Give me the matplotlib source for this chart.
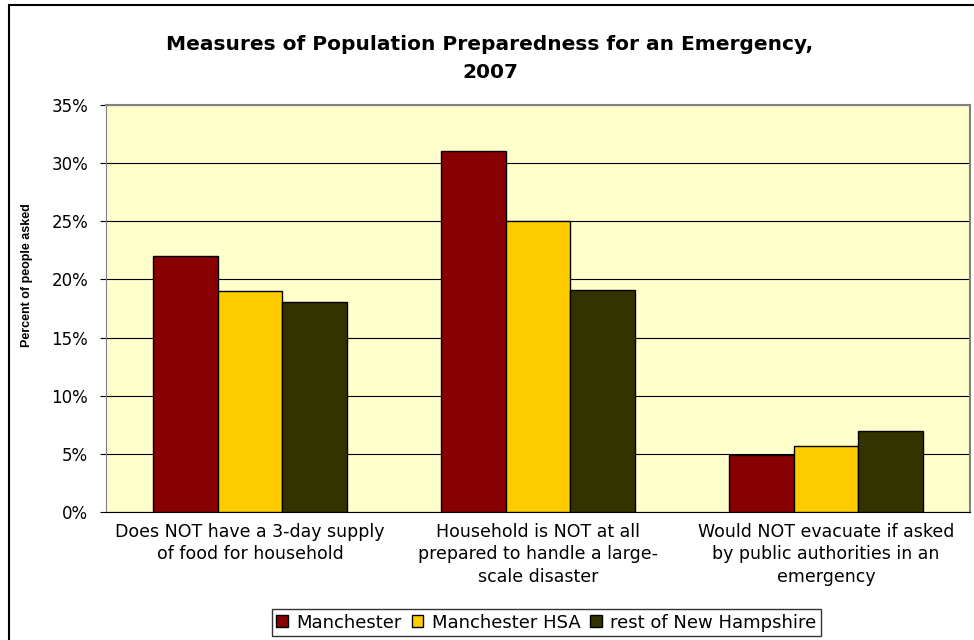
import matplotlib.pyplot as plt
import matplotlib.patches as patches
import numpy as np

plt.rcParams['font.family'] = ['DejaVu Sans']

categories = ['Does NOT have a 3-day supply\nof food for household',
              'Household is NOT at all\nprepared to handle a large-\nscale disaster',
              'Would NOT evacuate if asked\nby public authorities in an\nemergency']
series_names = ['Manchester', 'Manchester HSA', 'rest of New Hampshire']
manchester = [22.0, 31.0, 4.9]
manchester_hsa = [19.0, 25.0, 5.7]
rest_nh = [18.1, 19.1, 7.0]
colors = ['#880000', '#FFCC00', '#333300']

fig = plt.figure(figsize=(9.74, 6.40), dpi=100)
ax = fig.add_axes([0.1088, 0.2, 0.887, 0.636])
ax.set_facecolor('#FFFFCC')

x = np.arange(len(categories))
width = 0.224
for i, (vals, name, c) in enumerate(zip([manchester, manchester_hsa, rest_nh], series_names, colors)):
    ax.bar(x + (i - 1) * width, vals, width, color=c, edgecolor='black', linewidth=1, label=name, zorder=3)

ax.set_xlim(-0.5, 2.5)
ax.set_ylim(0, 35)
ax.set_yticks(range(0, 36, 5))
ax.set_yticklabels([f'{v}%' for v in range(0, 36, 5)], fontsize=12)
ax.yaxis.grid(True, color='black', linewidth=0.8, zorder=0)
ax.set_xticks(x)
ax.set_xticklabels(categories, fontsize=12.5, linespacing=1.3)
ax.tick_params(axis='x', length=0, pad=8)
ax.tick_params(axis='y', length=4.3, width=0.8, pad=8.5)
for s in ['top', 'right']:
    ax.spines[s].set_color('#808080')
    ax.spines[s].set_linewidth(1.5)
ax.spines['left'].set_color('#808080')
ax.spines['bottom'].set_color('black')

ax.set_ylabel('Percent of people asked', fontsize=9, fontweight='bold', family='Liberation Sans')
ax.yaxis.set_label_coords(-0.085, 0.582)

fig.text(0.503, 0.931, 'Measures of Population Preparedness for an Emergency,',
         ha='center', va='center', fontsize=14.5, fontweight='bold')
fig.text(0.503, 0.887, '2007', ha='center', va='center', fontsize=14.5, fontweight='bold')

leg = fig.legend(loc='center', bbox_to_anchor=(0.561, 0.027), ncol=3, fontsize=13,
                 frameon=True, fancybox=False, edgecolor='black', handlelength=0.66,
                 handleheight=0.66, handletextpad=0.45, columnspacing=0.55, borderpad=0.25)
leg.get_frame().set_linewidth(1.0)

# outer chart border
border = patches.Rectangle((9 / 974, -0.01), 1.0, 1 - 5 / 640 + 0.01, transform=fig.transFigure,
                           fill=False, edgecolor='black', linewidth=1.5)
fig.add_artist(border)

fig.savefig('out.png', dpi=100)
